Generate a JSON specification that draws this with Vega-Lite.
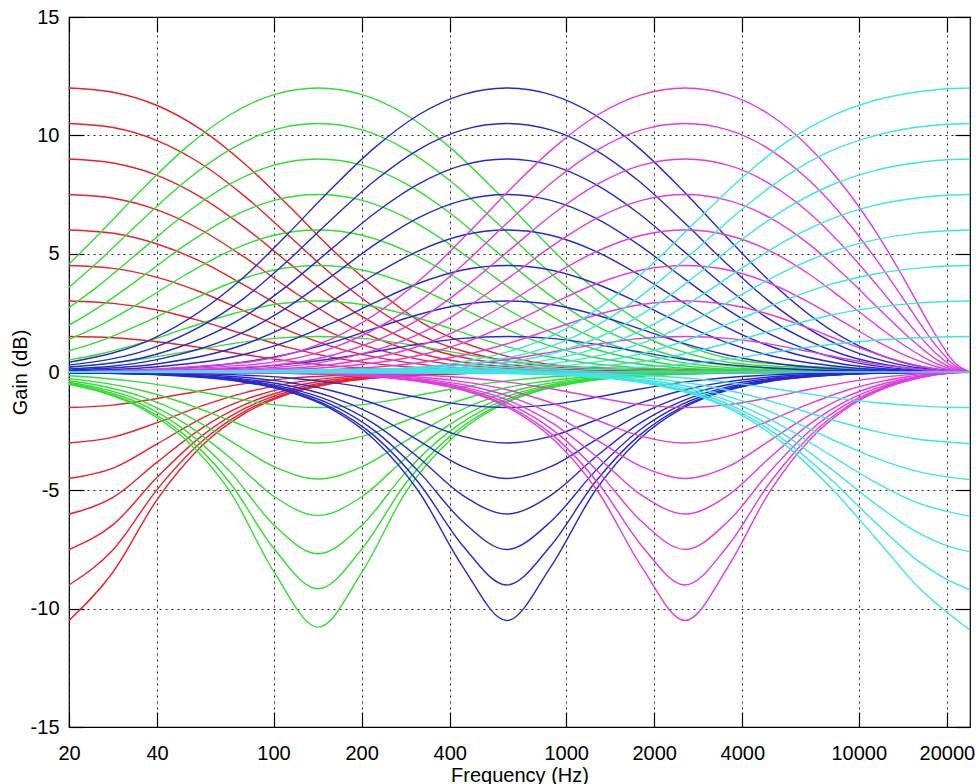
{
"$schema":"https://vega.github.io/schema/vega-lite/v6.json",
"width":901,"height":710,
"autosize":{"type":"none"},
"padding":{"left":69,"top":17,"right":8,"bottom":57},
"background":"white",
"config":{"view":{"stroke":"#000","strokeWidth":1.2},"font":"Liberation Sans",
"axis":{"labelFont":"Liberation Sans","titleFont":"Liberation Sans","labelFontSize":20,"titleFontSize":20,"titleFontWeight":"normal","labelColor":"#000","titleColor":"#000","domain":false,"tickColor":"#000","tickWidth":1.2,"gridColor":"#000","gridDash":[2,4],"gridWidth":1,"gridOpacity":0.85}},
"layer":[
{
"encoding":{
"x":{"field":"f","type":"quantitative","scale":{"type":"log","domain":[20,24000],"nice":false},
"axis":{"orient":"bottom","values":[20,40,100,200,400,1000,2000,4000,10000,20000],"labelExpr":"'' + datum.value","labelFlush":false,"labelOverlap":false,"labelAngle":0,"tickSize":-15,"labelPadding":31,"grid":true,"title":"Frequency (Hz)","titlePadding":2}},
"y":{"field":"y","type":"quantitative","scale":{"domain":[-15,15],"nice":false,"zero":false},
"axis":{"orient":"left","values":[-15,-10,-5,0,5,10,15],"labelExpr":"datum.value < 0 ? '-' + abs(datum.value) : '' + datum.value","labelFlush":false,"labelOverlap":false,"tickSize":-15,"labelPadding":25,"grid":true,"title":"Gain (dB)","titlePadding":0}},
"detail":{"field":"g","type":"nominal"}
},
"layer":[
{"data":{"values":[
{"g":12,"f":20,"y":12},{"g":12,"f":28.3,"y":11.82},{"g":12,"f":40,"y":11.26},{"g":12,"f":56.6,"y":10.24},{"g":12,"f":80,"y":8.78},{"g":12,"f":113.1,"y":7},{"g":12,"f":160,"y":5.13},{"g":12,"f":320,"y":2.1},{"g":12,"f":640,"y":0.64},{"g":12,"f":1280,"y":0.17},{"g":12,"f":24000,"y":0},
{"g":10.5,"f":20,"y":10.5},{"g":10.5,"f":28.3,"y":10.33},{"g":10.5,"f":40,"y":9.78},{"g":10.5,"f":56.6,"y":8.8},{"g":10.5,"f":80,"y":7.41},{"g":10.5,"f":113.1,"y":5.75},{"g":10.5,"f":160,"y":4.07},{"g":10.5,"f":320,"y":1.55},{"g":10.5,"f":640,"y":0.45},{"g":10.5,"f":1280,"y":0.12},{"g":10.5,"f":24000,"y":0},
{"g":9,"f":20,"y":9},{"g":9,"f":28.3,"y":8.83},{"g":9,"f":40,"y":8.31},{"g":9,"f":56.6,"y":7.38},{"g":9,"f":80,"y":6.09},{"g":9,"f":113.1,"y":4.59},{"g":9,"f":160,"y":3.13},{"g":9,"f":320,"y":1.11},{"g":9,"f":640,"y":0.31},{"g":9,"f":1280,"y":0.08},{"g":9,"f":24000,"y":0},
{"g":7.5,"f":20,"y":7.5},{"g":7.5,"f":28.3,"y":7.34},{"g":7.5,"f":40,"y":6.85},{"g":7.5,"f":56.6,"y":6},{"g":7.5,"f":80,"y":4.83},{"g":7.5,"f":113.1,"y":3.52},{"g":7.5,"f":160,"y":2.31},{"g":7.5,"f":320,"y":0.77},{"g":7.5,"f":640,"y":0.21},{"g":7.5,"f":1280,"y":0.05},{"g":7.5,"f":24000,"y":0},
{"g":6,"f":20,"y":6},{"g":6,"f":28.3,"y":5.86},{"g":6,"f":40,"y":5.41},{"g":6,"f":56.6,"y":4.66},{"g":6,"f":80,"y":3.65},{"g":6,"f":113.1,"y":2.57},{"g":6,"f":160,"y":1.62},{"g":6,"f":320,"y":0.51},{"g":6,"f":640,"y":0.14},{"g":6,"f":1280,"y":0.04},{"g":6,"f":24000,"y":0},
{"g":4.5,"f":20,"y":4.5},{"g":4.5,"f":28.3,"y":4.38},{"g":4.5,"f":40,"y":4},{"g":4.5,"f":56.6,"y":3.37},{"g":4.5,"f":80,"y":2.56},{"g":4.5,"f":113.1,"y":1.74},{"g":4.5,"f":160,"y":1.06},{"g":4.5,"f":320,"y":0.32},{"g":4.5,"f":640,"y":0.08},{"g":4.5,"f":1280,"y":0.02},{"g":4.5,"f":24000,"y":0},
{"g":3,"f":20,"y":3},{"g":3,"f":28.3,"y":2.9},{"g":3,"f":40,"y":2.62},{"g":3,"f":56.6,"y":2.15},{"g":3,"f":80,"y":1.58},{"g":3,"f":113.1,"y":1.03},{"g":3,"f":160,"y":0.61},{"g":3,"f":320,"y":0.18},{"g":3,"f":640,"y":0.05},{"g":3,"f":1280,"y":0.01},{"g":3,"f":24000,"y":0},
{"g":1.5,"f":20,"y":1.5},{"g":1.5,"f":28.3,"y":1.45},{"g":1.5,"f":40,"y":1.28},{"g":1.5,"f":56.6,"y":1.03},{"g":1.5,"f":80,"y":0.73},{"g":1.5,"f":113.1,"y":0.46},{"g":1.5,"f":160,"y":0.26},{"g":1.5,"f":320,"y":0.07},{"g":1.5,"f":640,"y":0.02},{"g":1.5,"f":24000,"y":0},
{"g":0,"f":20,"y":0},{"g":0,"f":24000,"y":0},
{"g":-1.5,"f":20,"y":-1.5},{"g":-1.5,"f":28.3,"y":-1.4},{"g":-1.5,"f":40,"y":-1.12},{"g":-1.5,"f":56.6,"y":-0.79},{"g":-1.5,"f":80,"y":-0.49},{"g":-1.5,"f":113.1,"y":-0.27},{"g":-1.5,"f":160,"y":-0.15},{"g":-1.5,"f":320,"y":-0.04},{"g":-1.5,"f":640,"y":-0.01},{"g":-1.5,"f":24000,"y":0},
{"g":-3,"f":20,"y":-3},{"g":-3,"f":28.3,"y":-2.75},{"g":-3,"f":40,"y":-2.14},{"g":-3,"f":56.6,"y":-1.44},{"g":-3,"f":80,"y":-0.87},{"g":-3,"f":113.1,"y":-0.48},{"g":-3,"f":160,"y":-0.25},{"g":-3,"f":320,"y":-0.07},{"g":-3,"f":640,"y":-0.02},{"g":-3,"f":24000,"y":0},
{"g":-4.5,"f":20,"y":-4.5},{"g":-4.5,"f":28.3,"y":-4.06},{"g":-4.5,"f":40,"y":-3.04},{"g":-4.5,"f":56.6,"y":-1.97},{"g":-4.5,"f":80,"y":-1.16},{"g":-4.5,"f":113.1,"y":-0.63},{"g":-4.5,"f":160,"y":-0.33},{"g":-4.5,"f":320,"y":-0.09},{"g":-4.5,"f":640,"y":-0.02},{"g":-4.5,"f":1280,"y":-0.01},{"g":-4.5,"f":24000,"y":0},
{"g":-6,"f":20,"y":-6},{"g":-6,"f":28.3,"y":-5.3},{"g":-6,"f":40,"y":-3.81},{"g":-6,"f":56.6,"y":-2.39},{"g":-6,"f":80,"y":-1.37},{"g":-6,"f":113.1,"y":-0.74},{"g":-6,"f":160,"y":-0.39},{"g":-6,"f":320,"y":-0.1},{"g":-6,"f":640,"y":-0.03},{"g":-6,"f":1280,"y":-0.01},{"g":-6,"f":24000,"y":0},
{"g":-7.5,"f":20,"y":-7.5},{"g":-7.5,"f":28.3,"y":-6.45},{"g":-7.5,"f":40,"y":-4.45},{"g":-7.5,"f":56.6,"y":-2.72},{"g":-7.5,"f":80,"y":-1.53},{"g":-7.5,"f":113.1,"y":-0.82},{"g":-7.5,"f":160,"y":-0.43},{"g":-7.5,"f":320,"y":-0.11},{"g":-7.5,"f":640,"y":-0.03},{"g":-7.5,"f":1280,"y":-0.01},{"g":-7.5,"f":24000,"y":0},
{"g":-9,"f":20,"y":-9},{"g":-9,"f":28.3,"y":-7.51},{"g":-9,"f":40,"y":-4.97},{"g":-9,"f":56.6,"y":-2.96},{"g":-9,"f":80,"y":-1.65},{"g":-9,"f":113.1,"y":-0.88},{"g":-9,"f":160,"y":-0.46},{"g":-9,"f":320,"y":-0.12},{"g":-9,"f":640,"y":-0.03},{"g":-9,"f":1280,"y":-0.01},{"g":-9,"f":24000,"y":0},
{"g":-10.5,"f":20,"y":-10.5},{"g":-10.5,"f":28.3,"y":-8.45},{"g":-10.5,"f":40,"y":-5.39},{"g":-10.5,"f":56.6,"y":-3.15},{"g":-10.5,"f":80,"y":-1.74},{"g":-10.5,"f":113.1,"y":-0.92},{"g":-10.5,"f":160,"y":-0.48},{"g":-10.5,"f":320,"y":-0.12},{"g":-10.5,"f":640,"y":-0.03},{"g":-10.5,"f":1280,"y":-0.01},{"g":-10.5,"f":24000,"y":0}
]},"mark":{"type":"line","color":"#e8212b","strokeWidth":1.4,"interpolate":"monotone","clip":true}},
{"data":{"values":[
{"g":12,"f":20,"y":4.56},{"g":12,"f":25.1,"y":5.78},{"g":12,"f":35.5,"y":7.71},{"g":12,"f":50.2,"y":9.48},{"g":12,"f":71,"y":10.87},{"g":12,"f":100.4,"y":11.72},{"g":12,"f":142,"y":12},{"g":12,"f":200.8,"y":11.72},{"g":12,"f":284,"y":10.87},{"g":12,"f":401.6,"y":9.48},{"g":12,"f":567.8,"y":7.71},{"g":12,"f":802.6,"y":5.78},{"g":12,"f":1134,"y":3.96},{"g":12,"f":2255,"y":1.44},{"g":12,"f":4417,"y":0.41},{"g":12,"f":24000,"y":0},
{"g":10.5,"f":20,"y":3.58},{"g":10.5,"f":25.1,"y":4.65},{"g":10.5,"f":35.5,"y":6.41},{"g":10.5,"f":50.2,"y":8.08},{"g":10.5,"f":71,"y":9.4},{"g":10.5,"f":100.4,"y":10.23},{"g":10.5,"f":142,"y":10.5},{"g":10.5,"f":200.8,"y":10.23},{"g":10.5,"f":284,"y":9.4},{"g":10.5,"f":401.6,"y":8.08},{"g":10.5,"f":567.8,"y":6.41},{"g":10.5,"f":802.6,"y":4.65},{"g":10.5,"f":1134,"y":3.07},{"g":10.5,"f":2255,"y":1.04},{"g":10.5,"f":4417,"y":0.29},{"g":10.5,"f":24000,"y":0},
{"g":9,"f":20,"y":2.72},{"g":9,"f":25.1,"y":3.62},{"g":9,"f":35.5,"y":5.17},{"g":9,"f":50.2,"y":6.71},{"g":9,"f":71,"y":7.95},{"g":9,"f":100.4,"y":8.74},{"g":9,"f":142,"y":9},{"g":9,"f":200.8,"y":8.74},{"g":9,"f":284,"y":7.95},{"g":9,"f":401.6,"y":6.71},{"g":9,"f":567.8,"y":5.17},{"g":9,"f":802.6,"y":3.62},{"g":9,"f":1134,"y":2.3},{"g":9,"f":2255,"y":0.73},{"g":9,"f":4417,"y":0.2},{"g":9,"f":24000,"y":0},
{"g":7.5,"f":20,"y":1.98},{"g":7.5,"f":25.1,"y":2.71},{"g":7.5,"f":35.5,"y":4.02},{"g":7.5,"f":50.2,"y":5.38},{"g":7.5,"f":71,"y":6.52},{"g":7.5,"f":100.4,"y":7.25},{"g":7.5,"f":142,"y":7.5},{"g":7.5,"f":200.8,"y":7.25},{"g":7.5,"f":284,"y":6.52},{"g":7.5,"f":401.6,"y":5.38},{"g":7.5,"f":567.8,"y":4.02},{"g":7.5,"f":802.6,"y":2.71},{"g":7.5,"f":1134,"y":1.66},{"g":7.5,"f":2255,"y":0.5},{"g":7.5,"f":4417,"y":0.13},{"g":7.5,"f":24000,"y":0},
{"g":6,"f":20,"y":1.38},{"g":6,"f":25.1,"y":1.93},{"g":6,"f":35.5,"y":2.97},{"g":6,"f":50.2,"y":4.12},{"g":6,"f":71,"y":5.12},{"g":6,"f":100.4,"y":5.78},{"g":6,"f":142,"y":6},{"g":6,"f":200.8,"y":5.78},{"g":6,"f":284,"y":5.12},{"g":6,"f":401.6,"y":4.12},{"g":6,"f":567.8,"y":2.97},{"g":6,"f":802.6,"y":1.93},{"g":6,"f":1134,"y":1.14},{"g":6,"f":2255,"y":0.33},{"g":6,"f":4417,"y":0.09},{"g":6,"f":24000,"y":0},
{"g":4.5,"f":20,"y":0.89},{"g":4.5,"f":25.1,"y":1.27},{"g":4.5,"f":35.5,"y":2.04},{"g":4.5,"f":50.2,"y":2.93},{"g":4.5,"f":71,"y":3.75},{"g":4.5,"f":100.4,"y":4.31},{"g":4.5,"f":142,"y":4.5},{"g":4.5,"f":200.8,"y":4.31},{"g":4.5,"f":284,"y":3.75},{"g":4.5,"f":401.6,"y":2.93},{"g":4.5,"f":567.8,"y":2.04},{"g":4.5,"f":802.6,"y":1.27},{"g":4.5,"f":1134,"y":0.73},{"g":4.5,"f":2255,"y":0.21},{"g":4.5,"f":4417,"y":0.05},{"g":4.5,"f":24000,"y":0},
{"g":3,"f":20,"y":0.51},{"g":3,"f":25.1,"y":0.74},{"g":3,"f":35.5,"y":1.23},{"g":3,"f":50.2,"y":1.84},{"g":3,"f":71,"y":2.43},{"g":3,"f":100.4,"y":2.85},{"g":3,"f":142,"y":3},{"g":3,"f":200.8,"y":2.85},{"g":3,"f":284,"y":2.43},{"g":3,"f":401.6,"y":1.84},{"g":3,"f":567.8,"y":1.23},{"g":3,"f":802.6,"y":0.74},{"g":3,"f":1134,"y":0.41},{"g":3,"f":2255,"y":0.11},{"g":3,"f":4417,"y":0.03},{"g":3,"f":24000,"y":0},
{"g":1.5,"f":20,"y":0.22},{"g":1.5,"f":25.1,"y":0.32},{"g":1.5,"f":35.5,"y":0.55},{"g":1.5,"f":50.2,"y":0.86},{"g":1.5,"f":71,"y":1.18},{"g":1.5,"f":100.4,"y":1.42},{"g":1.5,"f":142,"y":1.5},{"g":1.5,"f":200.8,"y":1.42},{"g":1.5,"f":284,"y":1.18},{"g":1.5,"f":401.6,"y":0.86},{"g":1.5,"f":567.8,"y":0.55},{"g":1.5,"f":802.6,"y":0.32},{"g":1.5,"f":1134,"y":0.18},{"g":1.5,"f":2255,"y":0.05},{"g":1.5,"f":4417,"y":0.01},{"g":1.5,"f":24000,"y":0},
{"g":0,"f":20,"y":0},{"g":0,"f":24000,"y":0},
{"g":-1.5,"f":20,"y":-0.16},{"g":-1.5,"f":25.1,"y":-0.24},{"g":-1.5,"f":35.5,"y":-0.44},{"g":-1.5,"f":50.2,"y":-0.73},{"g":-1.5,"f":71,"y":-1.08},{"g":-1.5,"f":100.4,"y":-1.38},{"g":-1.5,"f":142,"y":-1.5},{"g":-1.5,"f":200.8,"y":-1.38},{"g":-1.5,"f":284,"y":-1.08},{"g":-1.5,"f":401.6,"y":-0.73},{"g":-1.5,"f":567.8,"y":-0.44},{"g":-1.5,"f":802.6,"y":-0.24},{"g":-1.5,"f":1134,"y":-0.13},{"g":-1.5,"f":2255,"y":-0.03},{"g":-1.5,"f":4417,"y":-0.01},{"g":-1.5,"f":24000,"y":0},
{"g":-3,"f":20,"y":-0.28},{"g":-3,"f":25.1,"y":-0.43},{"g":-3,"f":35.5,"y":-0.78},{"g":-3,"f":50.2,"y":-1.34},{"g":-3,"f":71,"y":-2.05},{"g":-3,"f":100.4,"y":-2.72},{"g":-3,"f":142,"y":-3},{"g":-3,"f":200.8,"y":-2.72},{"g":-3,"f":284,"y":-2.05},{"g":-3,"f":401.6,"y":-1.34},{"g":-3,"f":567.8,"y":-0.78},{"g":-3,"f":802.6,"y":-0.43},{"g":-3,"f":1134,"y":-0.22},{"g":-3,"f":2255,"y":-0.06},{"g":-3,"f":4417,"y":-0.01},{"g":-3,"f":24000,"y":0},
{"g":-4.5,"f":20,"y":-0.37},{"g":-4.5,"f":25.1,"y":-0.56},{"g":-4.5,"f":35.5,"y":-1.04},{"g":-4.5,"f":50.2,"y":-1.82},{"g":-4.5,"f":71,"y":-2.9},{"g":-4.5,"f":100.4,"y":-4},{"g":-4.5,"f":142,"y":-4.52},{"g":-4.5,"f":200.8,"y":-4},{"g":-4.5,"f":284,"y":-2.9},{"g":-4.5,"f":401.6,"y":-1.82},{"g":-4.5,"f":567.8,"y":-1.04},{"g":-4.5,"f":802.6,"y":-0.56},{"g":-4.5,"f":1134,"y":-0.29},{"g":-4.5,"f":2255,"y":-0.08},{"g":-4.5,"f":4417,"y":-0.02},{"g":-4.5,"f":24000,"y":0},
{"g":-6,"f":20,"y":-0.43},{"g":-6,"f":25.1,"y":-0.66},{"g":-6,"f":35.5,"y":-1.23},{"g":-6,"f":50.2,"y":-2.2},{"g":-6,"f":71,"y":-3.62},{"g":-6,"f":100.4,"y":-5.26},{"g":-6,"f":142,"y":-6.06},{"g":-6,"f":200.8,"y":-5.26},{"g":-6,"f":284,"y":-3.62},{"g":-6,"f":401.6,"y":-2.2},{"g":-6,"f":567.8,"y":-1.23},{"g":-6,"f":802.6,"y":-0.66},{"g":-6,"f":1134,"y":-0.34},{"g":-6,"f":2255,"y":-0.09},{"g":-6,"f":4417,"y":-0.02},{"g":-6,"f":24000,"y":0},
{"g":-7.5,"f":20,"y":-0.47},{"g":-7.5,"f":25.1,"y":-0.73},{"g":-7.5,"f":35.5,"y":-1.37},{"g":-7.5,"f":50.2,"y":-2.49},{"g":-7.5,"f":71,"y":-4.21},{"g":-7.5,"f":100.4,"y":-6.47},{"g":-7.5,"f":142,"y":-7.68},{"g":-7.5,"f":200.8,"y":-6.47},{"g":-7.5,"f":284,"y":-4.21},{"g":-7.5,"f":401.6,"y":-2.49},{"g":-7.5,"f":567.8,"y":-1.37},{"g":-7.5,"f":802.6,"y":-0.73},{"g":-7.5,"f":1134,"y":-0.37},{"g":-7.5,"f":2255,"y":-0.1},{"g":-7.5,"f":4417,"y":-0.02},{"g":-7.5,"f":24000,"y":0},
{"g":-9,"f":20,"y":-0.5},{"g":-9,"f":25.1,"y":-0.78},{"g":-9,"f":35.5,"y":-1.48},{"g":-9,"f":50.2,"y":-2.71},{"g":-9,"f":71,"y":-4.68},{"g":-9,"f":100.4,"y":-7.47},{"g":-9,"f":142,"y":-9.16},{"g":-9,"f":200.8,"y":-7.47},{"g":-9,"f":284,"y":-4.68},{"g":-9,"f":401.6,"y":-2.71},{"g":-9,"f":567.8,"y":-1.48},{"g":-9,"f":802.6,"y":-0.78},{"g":-9,"f":1134,"y":-0.4},{"g":-9,"f":2255,"y":-0.1},{"g":-9,"f":4417,"y":-0.03},{"g":-9,"f":24000,"y":0},
{"g":-10.5,"f":20,"y":-0.53},{"g":-10.5,"f":25.1,"y":-0.81},{"g":-10.5,"f":35.5,"y":-1.55},{"g":-10.5,"f":50.2,"y":-2.87},{"g":-10.5,"f":71,"y":-5.05},{"g":-10.5,"f":100.4,"y":-8.45},{"g":-10.5,"f":142,"y":-10.78},{"g":-10.5,"f":200.8,"y":-8.45},{"g":-10.5,"f":284,"y":-5.05},{"g":-10.5,"f":401.6,"y":-2.87},{"g":-10.5,"f":567.8,"y":-1.55},{"g":-10.5,"f":802.6,"y":-0.81},{"g":-10.5,"f":1134,"y":-0.42},{"g":-10.5,"f":2255,"y":-0.11},{"g":-10.5,"f":4417,"y":-0.03},{"g":-10.5,"f":24000,"y":0}
]},"mark":{"type":"line","color":"#33dd33","strokeWidth":1.4,"interpolate":"monotone","clip":true}},
{"data":{"values":[
{"g":12,"f":20,"y":0.41},{"g":12,"f":39.2,"y":1.44},{"g":12,"f":78.4,"y":3.96},{"g":12,"f":110.8,"y":5.78},{"g":12,"f":156.8,"y":7.71},{"g":12,"f":221.7,"y":9.48},{"g":12,"f":313.5,"y":10.87},{"g":12,"f":443.4,"y":11.72},{"g":12,"f":627,"y":12},{"g":12,"f":886.2,"y":11.72},{"g":12,"f":1252,"y":10.87},{"g":12,"f":1767,"y":9.48},{"g":12,"f":2487,"y":7.71},{"g":12,"f":3487,"y":5.78},{"g":12,"f":4849,"y":3.96},{"g":12,"f":8881,"y":1.44},{"g":12,"f":14060,"y":0.41},{"g":12,"f":24000,"y":0},
{"g":10.5,"f":20,"y":0.29},{"g":10.5,"f":39.2,"y":1.04},{"g":10.5,"f":78.4,"y":3.07},{"g":10.5,"f":110.8,"y":4.65},{"g":10.5,"f":156.8,"y":6.41},{"g":10.5,"f":221.7,"y":8.08},{"g":10.5,"f":313.5,"y":9.4},{"g":10.5,"f":443.4,"y":10.23},{"g":10.5,"f":627,"y":10.5},{"g":10.5,"f":886.2,"y":10.23},{"g":10.5,"f":1252,"y":9.4},{"g":10.5,"f":1767,"y":8.08},{"g":10.5,"f":2487,"y":6.41},{"g":10.5,"f":3487,"y":4.65},{"g":10.5,"f":4849,"y":3.07},{"g":10.5,"f":8881,"y":1.04},{"g":10.5,"f":14060,"y":0.29},{"g":10.5,"f":24000,"y":0},
{"g":9,"f":20,"y":0.2},{"g":9,"f":39.2,"y":0.73},{"g":9,"f":78.4,"y":2.3},{"g":9,"f":110.8,"y":3.62},{"g":9,"f":156.8,"y":5.17},{"g":9,"f":221.7,"y":6.71},{"g":9,"f":313.5,"y":7.95},{"g":9,"f":443.4,"y":8.74},{"g":9,"f":627,"y":9},{"g":9,"f":886.2,"y":8.74},{"g":9,"f":1252,"y":7.95},{"g":9,"f":1767,"y":6.71},{"g":9,"f":2487,"y":5.17},{"g":9,"f":3487,"y":3.62},{"g":9,"f":4849,"y":2.3},{"g":9,"f":8881,"y":0.73},{"g":9,"f":14060,"y":0.2},{"g":9,"f":24000,"y":0},
{"g":7.5,"f":20,"y":0.13},{"g":7.5,"f":39.2,"y":0.5},{"g":7.5,"f":78.4,"y":1.66},{"g":7.5,"f":110.8,"y":2.71},{"g":7.5,"f":156.8,"y":4.02},{"g":7.5,"f":221.7,"y":5.38},{"g":7.5,"f":313.5,"y":6.52},{"g":7.5,"f":443.4,"y":7.25},{"g":7.5,"f":627,"y":7.5},{"g":7.5,"f":886.2,"y":7.25},{"g":7.5,"f":1252,"y":6.52},{"g":7.5,"f":1767,"y":5.38},{"g":7.5,"f":2487,"y":4.02},{"g":7.5,"f":3487,"y":2.71},{"g":7.5,"f":4849,"y":1.66},{"g":7.5,"f":8881,"y":0.5},{"g":7.5,"f":14060,"y":0.13},{"g":7.5,"f":24000,"y":0},
{"g":6,"f":20,"y":0.09},{"g":6,"f":39.2,"y":0.33},{"g":6,"f":78.4,"y":1.14},{"g":6,"f":110.8,"y":1.93},{"g":6,"f":156.8,"y":2.97},{"g":6,"f":221.7,"y":4.12},{"g":6,"f":313.5,"y":5.12},{"g":6,"f":443.4,"y":5.78},{"g":6,"f":627,"y":6},{"g":6,"f":886.2,"y":5.78},{"g":6,"f":1252,"y":5.12},{"g":6,"f":1767,"y":4.12},{"g":6,"f":2487,"y":2.97},{"g":6,"f":3487,"y":1.93},{"g":6,"f":4849,"y":1.14},{"g":6,"f":8881,"y":0.33},{"g":6,"f":14060,"y":0.09},{"g":6,"f":24000,"y":0},
{"g":4.5,"f":20,"y":0.05},{"g":4.5,"f":39.2,"y":0.21},{"g":4.5,"f":78.4,"y":0.73},{"g":4.5,"f":110.8,"y":1.27},{"g":4.5,"f":156.8,"y":2.04},{"g":4.5,"f":221.7,"y":2.93},{"g":4.5,"f":313.5,"y":3.75},{"g":4.5,"f":443.4,"y":4.31},{"g":4.5,"f":627,"y":4.5},{"g":4.5,"f":886.2,"y":4.31},{"g":4.5,"f":1252,"y":3.75},{"g":4.5,"f":1767,"y":2.93},{"g":4.5,"f":2487,"y":2.04},{"g":4.5,"f":3487,"y":1.27},{"g":4.5,"f":4849,"y":0.73},{"g":4.5,"f":8881,"y":0.21},{"g":4.5,"f":14060,"y":0.05},{"g":4.5,"f":24000,"y":0},
{"g":3,"f":20,"y":0.03},{"g":3,"f":39.2,"y":0.11},{"g":3,"f":78.4,"y":0.41},{"g":3,"f":110.8,"y":0.74},{"g":3,"f":156.8,"y":1.23},{"g":3,"f":221.7,"y":1.84},{"g":3,"f":313.5,"y":2.43},{"g":3,"f":443.4,"y":2.85},{"g":3,"f":627,"y":3},{"g":3,"f":886.2,"y":2.85},{"g":3,"f":1252,"y":2.43},{"g":3,"f":1767,"y":1.84},{"g":3,"f":2487,"y":1.23},{"g":3,"f":3487,"y":0.74},{"g":3,"f":4849,"y":0.41},{"g":3,"f":8881,"y":0.11},{"g":3,"f":14060,"y":0.03},{"g":3,"f":24000,"y":0},
{"g":1.5,"f":20,"y":0.01},{"g":1.5,"f":39.2,"y":0.05},{"g":1.5,"f":78.4,"y":0.18},{"g":1.5,"f":110.8,"y":0.32},{"g":1.5,"f":156.8,"y":0.55},{"g":1.5,"f":221.7,"y":0.86},{"g":1.5,"f":313.5,"y":1.18},{"g":1.5,"f":443.4,"y":1.42},{"g":1.5,"f":627,"y":1.5},{"g":1.5,"f":886.2,"y":1.42},{"g":1.5,"f":1252,"y":1.18},{"g":1.5,"f":1767,"y":0.86},{"g":1.5,"f":2487,"y":0.55},{"g":1.5,"f":3487,"y":0.32},{"g":1.5,"f":4849,"y":0.18},{"g":1.5,"f":8881,"y":0.05},{"g":1.5,"f":14060,"y":0.01},{"g":1.5,"f":24000,"y":0},
{"g":0,"f":20,"y":0},{"g":0,"f":24000,"y":0},
{"g":-1.5,"f":20,"y":-0.01},{"g":-1.5,"f":39.2,"y":-0.03},{"g":-1.5,"f":78.4,"y":-0.13},{"g":-1.5,"f":110.8,"y":-0.24},{"g":-1.5,"f":156.8,"y":-0.44},{"g":-1.5,"f":221.7,"y":-0.73},{"g":-1.5,"f":313.5,"y":-1.08},{"g":-1.5,"f":443.4,"y":-1.38},{"g":-1.5,"f":627,"y":-1.5},{"g":-1.5,"f":886.2,"y":-1.38},{"g":-1.5,"f":1252,"y":-1.08},{"g":-1.5,"f":1767,"y":-0.73},{"g":-1.5,"f":2487,"y":-0.44},{"g":-1.5,"f":3487,"y":-0.24},{"g":-1.5,"f":4849,"y":-0.13},{"g":-1.5,"f":8881,"y":-0.03},{"g":-1.5,"f":14060,"y":-0.01},{"g":-1.5,"f":24000,"y":0},
{"g":-3,"f":20,"y":-0.01},{"g":-3,"f":39.2,"y":-0.06},{"g":-3,"f":78.4,"y":-0.22},{"g":-3,"f":110.8,"y":-0.43},{"g":-3,"f":156.8,"y":-0.78},{"g":-3,"f":221.7,"y":-1.34},{"g":-3,"f":313.5,"y":-2.05},{"g":-3,"f":443.4,"y":-2.72},{"g":-3,"f":627,"y":-3},{"g":-3,"f":886.2,"y":-2.72},{"g":-3,"f":1252,"y":-2.05},{"g":-3,"f":1767,"y":-1.34},{"g":-3,"f":2487,"y":-0.78},{"g":-3,"f":3487,"y":-0.43},{"g":-3,"f":4849,"y":-0.22},{"g":-3,"f":8881,"y":-0.06},{"g":-3,"f":14060,"y":-0.01},{"g":-3,"f":24000,"y":0},
{"g":-4.5,"f":20,"y":-0.02},{"g":-4.5,"f":39.2,"y":-0.08},{"g":-4.5,"f":78.4,"y":-0.29},{"g":-4.5,"f":110.8,"y":-0.56},{"g":-4.5,"f":156.8,"y":-1.04},{"g":-4.5,"f":221.7,"y":-1.82},{"g":-4.5,"f":313.5,"y":-2.9},{"g":-4.5,"f":443.4,"y":-4},{"g":-4.5,"f":627,"y":-4.5},{"g":-4.5,"f":886.2,"y":-4},{"g":-4.5,"f":1252,"y":-2.9},{"g":-4.5,"f":1767,"y":-1.82},{"g":-4.5,"f":2487,"y":-1.04},{"g":-4.5,"f":3487,"y":-0.56},{"g":-4.5,"f":4849,"y":-0.29},{"g":-4.5,"f":8881,"y":-0.08},{"g":-4.5,"f":14060,"y":-0.02},{"g":-4.5,"f":24000,"y":0},
{"g":-6,"f":20,"y":-0.02},{"g":-6,"f":39.2,"y":-0.09},{"g":-6,"f":78.4,"y":-0.34},{"g":-6,"f":110.8,"y":-0.66},{"g":-6,"f":156.8,"y":-1.23},{"g":-6,"f":221.7,"y":-2.2},{"g":-6,"f":313.5,"y":-3.62},{"g":-6,"f":443.4,"y":-5.21},{"g":-6,"f":627,"y":-6},{"g":-6,"f":886.2,"y":-5.21},{"g":-6,"f":1252,"y":-3.62},{"g":-6,"f":1767,"y":-2.2},{"g":-6,"f":2487,"y":-1.23},{"g":-6,"f":3487,"y":-0.66},{"g":-6,"f":4849,"y":-0.34},{"g":-6,"f":8881,"y":-0.09},{"g":-6,"f":14060,"y":-0.02},{"g":-6,"f":24000,"y":0},
{"g":-7.5,"f":20,"y":-0.02},{"g":-7.5,"f":39.2,"y":-0.1},{"g":-7.5,"f":78.4,"y":-0.37},{"g":-7.5,"f":110.8,"y":-0.73},{"g":-7.5,"f":156.8,"y":-1.37},{"g":-7.5,"f":221.7,"y":-2.49},{"g":-7.5,"f":313.5,"y":-4.21},{"g":-7.5,"f":443.4,"y":-6.32},{"g":-7.5,"f":627,"y":-7.5},{"g":-7.5,"f":886.2,"y":-6.32},{"g":-7.5,"f":1252,"y":-4.21},{"g":-7.5,"f":1767,"y":-2.49},{"g":-7.5,"f":2487,"y":-1.37},{"g":-7.5,"f":3487,"y":-0.73},{"g":-7.5,"f":4849,"y":-0.37},{"g":-7.5,"f":8881,"y":-0.1},{"g":-7.5,"f":14060,"y":-0.02},{"g":-7.5,"f":24000,"y":0},
{"g":-9,"f":20,"y":-0.03},{"g":-9,"f":39.2,"y":-0.1},{"g":-9,"f":78.4,"y":-0.4},{"g":-9,"f":110.8,"y":-0.78},{"g":-9,"f":156.8,"y":-1.48},{"g":-9,"f":221.7,"y":-2.71},{"g":-9,"f":313.5,"y":-4.68},{"g":-9,"f":443.4,"y":-7.34},{"g":-9,"f":627,"y":-9},{"g":-9,"f":886.2,"y":-7.34},{"g":-9,"f":1252,"y":-4.68},{"g":-9,"f":1767,"y":-2.71},{"g":-9,"f":2487,"y":-1.48},{"g":-9,"f":3487,"y":-0.78},{"g":-9,"f":4849,"y":-0.4},{"g":-9,"f":8881,"y":-0.1},{"g":-9,"f":14060,"y":-0.03},{"g":-9,"f":24000,"y":0},
{"g":-10.5,"f":20,"y":-0.03},{"g":-10.5,"f":39.2,"y":-0.11},{"g":-10.5,"f":78.4,"y":-0.42},{"g":-10.5,"f":110.8,"y":-0.81},{"g":-10.5,"f":156.8,"y":-1.55},{"g":-10.5,"f":221.7,"y":-2.87},{"g":-10.5,"f":313.5,"y":-5.05},{"g":-10.5,"f":443.4,"y":-8.23},{"g":-10.5,"f":627,"y":-10.5},{"g":-10.5,"f":886.2,"y":-8.23},{"g":-10.5,"f":1252,"y":-5.05},{"g":-10.5,"f":1767,"y":-2.87},{"g":-10.5,"f":2487,"y":-1.55},{"g":-10.5,"f":3487,"y":-0.81},{"g":-10.5,"f":4849,"y":-0.42},{"g":-10.5,"f":8881,"y":-0.11},{"g":-10.5,"f":14060,"y":-0.03},{"g":-10.5,"f":24000,"y":0}
]},"mark":{"type":"line","color":"#2828d0","strokeWidth":1.4,"interpolate":"monotone","clip":true}},
{"data":{"values":[
{"g":12,"f":20,"y":0},{"g":12,"f":80.4,"y":0.41},{"g":12,"f":160.9,"y":1.44},{"g":12,"f":321.7,"y":3.96},{"g":12,"f":454.9,"y":5.78},{"g":12,"f":643.1,"y":7.71},{"g":12,"f":909,"y":9.48},{"g":12,"f":1284,"y":10.87},{"g":12,"f":1812,"y":11.72},{"g":12,"f":2550,"y":12},{"g":12,"f":3574,"y":11.72},{"g":12,"f":4966,"y":10.87},{"g":12,"f":6794,"y":9.48},{"g":12,"f":9060,"y":7.71},{"g":12,"f":11633,"y":5.78},{"g":12,"f":14247,"y":3.96},{"g":12,"f":18573,"y":1.44},{"g":12,"f":21198,"y":0.41},{"g":12,"f":24000,"y":0},
{"g":10.5,"f":20,"y":0},{"g":10.5,"f":80.4,"y":0.29},{"g":10.5,"f":160.9,"y":1.04},{"g":10.5,"f":321.7,"y":3.07},{"g":10.5,"f":454.9,"y":4.65},{"g":10.5,"f":643.1,"y":6.41},{"g":10.5,"f":909,"y":8.08},{"g":10.5,"f":1284,"y":9.4},{"g":10.5,"f":1812,"y":10.23},{"g":10.5,"f":2550,"y":10.5},{"g":10.5,"f":3574,"y":10.23},{"g":10.5,"f":4966,"y":9.4},{"g":10.5,"f":6794,"y":8.08},{"g":10.5,"f":9060,"y":6.41},{"g":10.5,"f":11633,"y":4.65},{"g":10.5,"f":14247,"y":3.07},{"g":10.5,"f":18573,"y":1.04},{"g":10.5,"f":21198,"y":0.29},{"g":10.5,"f":24000,"y":0},
{"g":9,"f":20,"y":0},{"g":9,"f":80.4,"y":0.2},{"g":9,"f":160.9,"y":0.73},{"g":9,"f":321.7,"y":2.3},{"g":9,"f":454.9,"y":3.62},{"g":9,"f":643.1,"y":5.17},{"g":9,"f":909,"y":6.71},{"g":9,"f":1284,"y":7.95},{"g":9,"f":1812,"y":8.74},{"g":9,"f":2550,"y":9},{"g":9,"f":3574,"y":8.74},{"g":9,"f":4966,"y":7.95},{"g":9,"f":6794,"y":6.71},{"g":9,"f":9060,"y":5.17},{"g":9,"f":11633,"y":3.62},{"g":9,"f":14247,"y":2.3},{"g":9,"f":18573,"y":0.73},{"g":9,"f":21198,"y":0.2},{"g":9,"f":24000,"y":0},
{"g":7.5,"f":20,"y":0},{"g":7.5,"f":80.4,"y":0.13},{"g":7.5,"f":160.9,"y":0.5},{"g":7.5,"f":321.7,"y":1.66},{"g":7.5,"f":454.9,"y":2.71},{"g":7.5,"f":643.1,"y":4.02},{"g":7.5,"f":909,"y":5.38},{"g":7.5,"f":1284,"y":6.52},{"g":7.5,"f":1812,"y":7.25},{"g":7.5,"f":2550,"y":7.5},{"g":7.5,"f":3574,"y":7.25},{"g":7.5,"f":4966,"y":6.52},{"g":7.5,"f":6794,"y":5.38},{"g":7.5,"f":9060,"y":4.02},{"g":7.5,"f":11633,"y":2.71},{"g":7.5,"f":14247,"y":1.66},{"g":7.5,"f":18573,"y":0.5},{"g":7.5,"f":21198,"y":0.13},{"g":7.5,"f":24000,"y":0},
{"g":6,"f":20,"y":0},{"g":6,"f":80.4,"y":0.09},{"g":6,"f":160.9,"y":0.33},{"g":6,"f":321.7,"y":1.14},{"g":6,"f":454.9,"y":1.93},{"g":6,"f":643.1,"y":2.97},{"g":6,"f":909,"y":4.12},{"g":6,"f":1284,"y":5.12},{"g":6,"f":1812,"y":5.78},{"g":6,"f":2550,"y":6},{"g":6,"f":3574,"y":5.78},{"g":6,"f":4966,"y":5.12},{"g":6,"f":6794,"y":4.12},{"g":6,"f":9060,"y":2.97},{"g":6,"f":11633,"y":1.93},{"g":6,"f":14247,"y":1.14},{"g":6,"f":18573,"y":0.33},{"g":6,"f":21198,"y":0.09},{"g":6,"f":24000,"y":0},
{"g":4.5,"f":20,"y":0},{"g":4.5,"f":80.4,"y":0.05},{"g":4.5,"f":160.9,"y":0.21},{"g":4.5,"f":321.7,"y":0.73},{"g":4.5,"f":454.9,"y":1.27},{"g":4.5,"f":643.1,"y":2.04},{"g":4.5,"f":909,"y":2.93},{"g":4.5,"f":1284,"y":3.75},{"g":4.5,"f":1812,"y":4.31},{"g":4.5,"f":2550,"y":4.5},{"g":4.5,"f":3574,"y":4.31},{"g":4.5,"f":4966,"y":3.75},{"g":4.5,"f":6794,"y":2.93},{"g":4.5,"f":9060,"y":2.04},{"g":4.5,"f":11633,"y":1.27},{"g":4.5,"f":14247,"y":0.73},{"g":4.5,"f":18573,"y":0.21},{"g":4.5,"f":21198,"y":0.05},{"g":4.5,"f":24000,"y":0},
{"g":3,"f":20,"y":0},{"g":3,"f":80.4,"y":0.03},{"g":3,"f":160.9,"y":0.11},{"g":3,"f":321.7,"y":0.41},{"g":3,"f":454.9,"y":0.74},{"g":3,"f":643.1,"y":1.23},{"g":3,"f":909,"y":1.84},{"g":3,"f":1284,"y":2.43},{"g":3,"f":1812,"y":2.85},{"g":3,"f":2550,"y":3},{"g":3,"f":3574,"y":2.85},{"g":3,"f":4966,"y":2.43},{"g":3,"f":6794,"y":1.84},{"g":3,"f":9060,"y":1.23},{"g":3,"f":11633,"y":0.74},{"g":3,"f":14247,"y":0.41},{"g":3,"f":18573,"y":0.11},{"g":3,"f":21198,"y":0.03},{"g":3,"f":24000,"y":0},
{"g":1.5,"f":20,"y":0},{"g":1.5,"f":80.4,"y":0.01},{"g":1.5,"f":160.9,"y":0.05},{"g":1.5,"f":321.7,"y":0.18},{"g":1.5,"f":454.9,"y":0.32},{"g":1.5,"f":643.1,"y":0.55},{"g":1.5,"f":909,"y":0.86},{"g":1.5,"f":1284,"y":1.18},{"g":1.5,"f":1812,"y":1.42},{"g":1.5,"f":2550,"y":1.5},{"g":1.5,"f":3574,"y":1.42},{"g":1.5,"f":4966,"y":1.18},{"g":1.5,"f":6794,"y":0.86},{"g":1.5,"f":9060,"y":0.55},{"g":1.5,"f":11633,"y":0.32},{"g":1.5,"f":14247,"y":0.18},{"g":1.5,"f":18573,"y":0.05},{"g":1.5,"f":21198,"y":0.01},{"g":1.5,"f":24000,"y":0},
{"g":0,"f":20,"y":0},{"g":0,"f":24000,"y":0},
{"g":-1.5,"f":20,"y":0},{"g":-1.5,"f":80.4,"y":-0.01},{"g":-1.5,"f":160.9,"y":-0.03},{"g":-1.5,"f":321.7,"y":-0.13},{"g":-1.5,"f":454.9,"y":-0.24},{"g":-1.5,"f":643.1,"y":-0.44},{"g":-1.5,"f":909,"y":-0.73},{"g":-1.5,"f":1284,"y":-1.08},{"g":-1.5,"f":1812,"y":-1.38},{"g":-1.5,"f":2550,"y":-1.5},{"g":-1.5,"f":3574,"y":-1.38},{"g":-1.5,"f":4966,"y":-1.08},{"g":-1.5,"f":6794,"y":-0.73},{"g":-1.5,"f":9060,"y":-0.44},{"g":-1.5,"f":11633,"y":-0.24},{"g":-1.5,"f":14247,"y":-0.13},{"g":-1.5,"f":18573,"y":-0.03},{"g":-1.5,"f":21198,"y":-0.01},{"g":-1.5,"f":24000,"y":0},
{"g":-3,"f":20,"y":0},{"g":-3,"f":80.4,"y":-0.01},{"g":-3,"f":160.9,"y":-0.06},{"g":-3,"f":321.7,"y":-0.22},{"g":-3,"f":454.9,"y":-0.43},{"g":-3,"f":643.1,"y":-0.78},{"g":-3,"f":909,"y":-1.34},{"g":-3,"f":1284,"y":-2.05},{"g":-3,"f":1812,"y":-2.72},{"g":-3,"f":2550,"y":-3},{"g":-3,"f":3574,"y":-2.72},{"g":-3,"f":4966,"y":-2.05},{"g":-3,"f":6794,"y":-1.34},{"g":-3,"f":9060,"y":-0.78},{"g":-3,"f":11633,"y":-0.43},{"g":-3,"f":14247,"y":-0.22},{"g":-3,"f":18573,"y":-0.06},{"g":-3,"f":21198,"y":-0.01},{"g":-3,"f":24000,"y":0},
{"g":-4.5,"f":20,"y":0},{"g":-4.5,"f":80.4,"y":-0.02},{"g":-4.5,"f":160.9,"y":-0.08},{"g":-4.5,"f":321.7,"y":-0.29},{"g":-4.5,"f":454.9,"y":-0.56},{"g":-4.5,"f":643.1,"y":-1.04},{"g":-4.5,"f":909,"y":-1.82},{"g":-4.5,"f":1284,"y":-2.9},{"g":-4.5,"f":1812,"y":-4},{"g":-4.5,"f":2550,"y":-4.5},{"g":-4.5,"f":3574,"y":-4},{"g":-4.5,"f":4966,"y":-2.9},{"g":-4.5,"f":6794,"y":-1.82},{"g":-4.5,"f":9060,"y":-1.04},{"g":-4.5,"f":11633,"y":-0.56},{"g":-4.5,"f":14247,"y":-0.29},{"g":-4.5,"f":18573,"y":-0.08},{"g":-4.5,"f":21198,"y":-0.02},{"g":-4.5,"f":24000,"y":0},
{"g":-6,"f":20,"y":0},{"g":-6,"f":80.4,"y":-0.02},{"g":-6,"f":160.9,"y":-0.09},{"g":-6,"f":321.7,"y":-0.34},{"g":-6,"f":454.9,"y":-0.66},{"g":-6,"f":643.1,"y":-1.23},{"g":-6,"f":909,"y":-2.2},{"g":-6,"f":1284,"y":-3.62},{"g":-6,"f":1812,"y":-5.21},{"g":-6,"f":2550,"y":-6},{"g":-6,"f":3574,"y":-5.21},{"g":-6,"f":4966,"y":-3.62},{"g":-6,"f":6794,"y":-2.2},{"g":-6,"f":9060,"y":-1.23},{"g":-6,"f":11633,"y":-0.66},{"g":-6,"f":14247,"y":-0.34},{"g":-6,"f":18573,"y":-0.09},{"g":-6,"f":21198,"y":-0.02},{"g":-6,"f":24000,"y":0},
{"g":-7.5,"f":20,"y":0},{"g":-7.5,"f":80.4,"y":-0.02},{"g":-7.5,"f":160.9,"y":-0.1},{"g":-7.5,"f":321.7,"y":-0.37},{"g":-7.5,"f":454.9,"y":-0.73},{"g":-7.5,"f":643.1,"y":-1.37},{"g":-7.5,"f":909,"y":-2.49},{"g":-7.5,"f":1284,"y":-4.21},{"g":-7.5,"f":1812,"y":-6.32},{"g":-7.5,"f":2550,"y":-7.5},{"g":-7.5,"f":3574,"y":-6.32},{"g":-7.5,"f":4966,"y":-4.21},{"g":-7.5,"f":6794,"y":-2.49},{"g":-7.5,"f":9060,"y":-1.37},{"g":-7.5,"f":11633,"y":-0.73},{"g":-7.5,"f":14247,"y":-0.37},{"g":-7.5,"f":18573,"y":-0.1},{"g":-7.5,"f":21198,"y":-0.02},{"g":-7.5,"f":24000,"y":0},
{"g":-9,"f":20,"y":0},{"g":-9,"f":80.4,"y":-0.03},{"g":-9,"f":160.9,"y":-0.1},{"g":-9,"f":321.7,"y":-0.4},{"g":-9,"f":454.9,"y":-0.78},{"g":-9,"f":643.1,"y":-1.48},{"g":-9,"f":909,"y":-2.71},{"g":-9,"f":1284,"y":-4.68},{"g":-9,"f":1812,"y":-7.34},{"g":-9,"f":2550,"y":-9},{"g":-9,"f":3574,"y":-7.34},{"g":-9,"f":4966,"y":-4.68},{"g":-9,"f":6794,"y":-2.71},{"g":-9,"f":9060,"y":-1.48},{"g":-9,"f":11633,"y":-0.78},{"g":-9,"f":14247,"y":-0.4},{"g":-9,"f":18573,"y":-0.1},{"g":-9,"f":21198,"y":-0.03},{"g":-9,"f":24000,"y":0},
{"g":-10.5,"f":20,"y":0},{"g":-10.5,"f":80.4,"y":-0.03},{"g":-10.5,"f":160.9,"y":-0.11},{"g":-10.5,"f":321.7,"y":-0.42},{"g":-10.5,"f":454.9,"y":-0.81},{"g":-10.5,"f":643.1,"y":-1.55},{"g":-10.5,"f":909,"y":-2.87},{"g":-10.5,"f":1284,"y":-5.05},{"g":-10.5,"f":1812,"y":-8.23},{"g":-10.5,"f":2550,"y":-10.5},{"g":-10.5,"f":3574,"y":-8.23},{"g":-10.5,"f":4966,"y":-5.05},{"g":-10.5,"f":6794,"y":-2.87},{"g":-10.5,"f":9060,"y":-1.55},{"g":-10.5,"f":11633,"y":-0.81},{"g":-10.5,"f":14247,"y":-0.42},{"g":-10.5,"f":18573,"y":-0.11},{"g":-10.5,"f":21198,"y":-0.03},{"g":-10.5,"f":24000,"y":0}
]},"mark":{"type":"line","color":"#e03ce0","strokeWidth":1.4,"interpolate":"monotone","clip":true}}
]
},
{
"data":{"values":[
{"g":12,"f":20,"y":0},{"g":12,"f":250,"y":0.14},{"g":12,"f":500,"y":0.55},{"g":12,"f":1000,"y":1.83},{"g":12,"f":1414,"y":3.05},{"g":12,"f":2000,"y":4.64},{"g":12,"f":2828,"y":6.45},{"g":12,"f":4000,"y":8.22},{"g":12,"f":5657,"y":9.71},{"g":12,"f":8000,"y":10.79},{"g":12,"f":11314,"y":11.47},{"g":12,"f":16000,"y":11.84},{"g":12,"f":20000,"y":11.97},{"g":12,"f":24000,"y":12},
{"g":10.5,"f":20,"y":0},{"g":10.5,"f":250,"y":0.1},{"g":10.5,"f":500,"y":0.38},{"g":10.5,"f":1000,"y":1.34},{"g":10.5,"f":1414,"y":2.3},{"g":10.5,"f":2000,"y":3.65},{"g":10.5,"f":2828,"y":5.25},{"g":10.5,"f":4000,"y":6.89},{"g":10.5,"f":5657,"y":8.29},{"g":10.5,"f":8000,"y":9.33},{"g":10.5,"f":11314,"y":9.98},{"g":10.5,"f":16000,"y":10.35},{"g":10.5,"f":20000,"y":10.47},{"g":10.5,"f":24000,"y":10.5},
{"g":9,"f":20,"y":0},{"g":9,"f":250,"y":0.07},{"g":9,"f":500,"y":0.27},{"g":9,"f":1000,"y":0.95},{"g":9,"f":1414,"y":1.69},{"g":9,"f":2000,"y":2.77},{"g":9,"f":2828,"y":4.15},{"g":9,"f":4000,"y":5.61},{"g":9,"f":5657,"y":6.91},{"g":9,"f":8000,"y":7.88},{"g":9,"f":11314,"y":8.51},{"g":9,"f":16000,"y":8.85},{"g":9,"f":20000,"y":8.97},{"g":9,"f":24000,"y":9},
{"g":7.5,"f":20,"y":0},{"g":7.5,"f":250,"y":0.05},{"g":7.5,"f":500,"y":0.18},{"g":7.5,"f":1000,"y":0.66},{"g":7.5,"f":1414,"y":1.19},{"g":7.5,"f":2000,"y":2.03},{"g":7.5,"f":2828,"y":3.15},{"g":7.5,"f":4000,"y":4.4},{"g":7.5,"f":5657,"y":5.56},{"g":7.5,"f":8000,"y":6.45},{"g":7.5,"f":11314,"y":7.04},{"g":7.5,"f":16000,"y":7.36},{"g":7.5,"f":20000,"y":7.47},{"g":7.5,"f":24000,"y":7.5},
{"g":6,"f":20,"y":0},{"g":6,"f":250,"y":0.03},{"g":6,"f":500,"y":0.12},{"g":6,"f":1000,"y":0.44},{"g":6,"f":1414,"y":0.81},{"g":6,"f":2000,"y":1.41},{"g":6,"f":2828,"y":2.27},{"g":6,"f":4000,"y":3.29},{"g":6,"f":5657,"y":4.28},{"g":6,"f":8000,"y":5.06},{"g":6,"f":11314,"y":5.58},{"g":6,"f":16000,"y":5.88},{"g":6,"f":20000,"y":5.97},{"g":6,"f":24000,"y":6},
{"g":4.5,"f":20,"y":0},{"g":4.5,"f":250,"y":0.02},{"g":4.5,"f":500,"y":0.07},{"g":4.5,"f":1000,"y":0.27},{"g":4.5,"f":1414,"y":0.51},{"g":4.5,"f":2000,"y":0.91},{"g":4.5,"f":2828,"y":1.52},{"g":4.5,"f":4000,"y":2.28},{"g":4.5,"f":5657,"y":3.06},{"g":4.5,"f":8000,"y":3.7},{"g":4.5,"f":11314,"y":4.14},{"g":4.5,"f":16000,"y":4.39},{"g":4.5,"f":20000,"y":4.48},{"g":4.5,"f":24000,"y":4.5},
{"g":3,"f":20,"y":0},{"g":3,"f":250,"y":0.01},{"g":3,"f":500,"y":0.04},{"g":3,"f":1000,"y":0.15},{"g":3,"f":1414,"y":0.29},{"g":3,"f":2000,"y":0.52},{"g":3,"f":2828,"y":0.9},{"g":3,"f":4000,"y":1.39},{"g":3,"f":5657,"y":1.93},{"g":3,"f":8000,"y":2.4},{"g":3,"f":11314,"y":2.72},{"g":3,"f":16000,"y":2.92},{"g":3,"f":20000,"y":2.98},{"g":3,"f":24000,"y":3},
{"g":1.5,"f":20,"y":0},{"g":1.5,"f":500,"y":0.02},{"g":1.5,"f":1000,"y":0.06},{"g":1.5,"f":1414,"y":0.12},{"g":1.5,"f":2000,"y":0.23},{"g":1.5,"f":2828,"y":0.39},{"g":1.5,"f":4000,"y":0.63},{"g":1.5,"f":5657,"y":0.91},{"g":1.5,"f":8000,"y":1.16},{"g":1.5,"f":11314,"y":1.34},{"g":1.5,"f":16000,"y":1.45},{"g":1.5,"f":20000,"y":1.49},{"g":1.5,"f":24000,"y":1.5},
{"g":0,"f":20,"y":0},{"g":0,"f":24000,"y":0},
{"g":-1.5,"f":20,"y":0},{"g":-1.5,"f":500,"y":-0.01},{"g":-1.5,"f":1000,"y":-0.05},{"g":-1.5,"f":1414,"y":-0.09},{"g":-1.5,"f":2000,"y":-0.17},{"g":-1.5,"f":2828,"y":-0.3},{"g":-1.5,"f":4000,"y":-0.51},{"g":-1.5,"f":5657,"y":-0.78},{"g":-1.5,"f":8000,"y":-1.06},{"g":-1.5,"f":11314,"y":-1.29},{"g":-1.5,"f":16000,"y":-1.43},{"g":-1.5,"f":20000,"y":-1.49},{"g":-1.5,"f":24000,"y":-1.5},
{"g":-3,"f":20,"y":0},{"g":-3,"f":500,"y":-0.02},{"g":-3,"f":1000,"y":-0.08},{"g":-3,"f":1414,"y":-0.15},{"g":-3,"f":2000,"y":-0.29},{"g":-3,"f":2828,"y":-0.53},{"g":-3,"f":4000,"y":-0.91},{"g":-3,"f":5657,"y":-1.43},{"g":-3,"f":8000,"y":-2},{"g":-3,"f":11314,"y":-2.5},{"g":-3,"f":16000,"y":-2.84},{"g":-3,"f":20000,"y":-2.96},{"g":-3,"f":24000,"y":-3.03},
{"g":-4.5,"f":20,"y":0},{"g":-4.5,"f":500,"y":-0.03},{"g":-4.5,"f":1000,"y":-0.1},{"g":-4.5,"f":1414,"y":-0.2},{"g":-4.5,"f":2000,"y":-0.38},{"g":-4.5,"f":2828,"y":-0.7},{"g":-4.5,"f":4000,"y":-1.22},{"g":-4.5,"f":5657,"y":-1.96},{"g":-4.5,"f":8000,"y":-2.82},{"g":-4.5,"f":11314,"y":-3.62},{"g":-4.5,"f":16000,"y":-4.21},{"g":-4.5,"f":20000,"y":-4.43},{"g":-4.5,"f":24000,"y":-4.54},
{"g":-6,"f":20,"y":0},{"g":-6,"f":500,"y":-0.03},{"g":-6,"f":1000,"y":-0.12},{"g":-6,"f":1414,"y":-0.23},{"g":-6,"f":2000,"y":-0.44},{"g":-6,"f":2828,"y":-0.82},{"g":-6,"f":4000,"y":-1.45},{"g":-6,"f":5657,"y":-2.37},{"g":-6,"f":8000,"y":-3.51},{"g":-6,"f":11314,"y":-4.64},{"g":-6,"f":16000,"y":-5.54},{"g":-6,"f":20000,"y":-5.89},{"g":-6,"f":24000,"y":-6.1},
{"g":-7.5,"f":20,"y":0},{"g":-7.5,"f":500,"y":-0.03},{"g":-7.5,"f":1000,"y":-0.13},{"g":-7.5,"f":1414,"y":-0.25},{"g":-7.5,"f":2000,"y":-0.49},{"g":-7.5,"f":2828,"y":-0.91},{"g":-7.5,"f":4000,"y":-1.63},{"g":-7.5,"f":5657,"y":-2.7},{"g":-7.5,"f":8000,"y":-4.07},{"g":-7.5,"f":11314,"y":-5.54},{"g":-7.5,"f":16000,"y":-6.8},{"g":-7.5,"f":20000,"y":-7.34},{"g":-7.5,"f":24000,"y":-7.6},
{"g":-9,"f":20,"y":0},{"g":-9,"f":500,"y":-0.03},{"g":-9,"f":1000,"y":-0.14},{"g":-9,"f":1414,"y":-0.27},{"g":-9,"f":2000,"y":-0.52},{"g":-9,"f":2828,"y":-0.98},{"g":-9,"f":4000,"y":-1.75},{"g":-9,"f":5657,"y":-2.94},{"g":-9,"f":8000,"y":-4.52},{"g":-9,"f":11314,"y":-6.32},{"g":-9,"f":16000,"y":-7.99},{"g":-9,"f":20000,"y":-8.76},{"g":-9,"f":24000,"y":-9.2},
{"g":-10.5,"f":20,"y":0},{"g":-10.5,"f":250,"y":-0.01},{"g":-10.5,"f":500,"y":-0.04},{"g":-10.5,"f":1000,"y":-0.14},{"g":-10.5,"f":1414,"y":-0.28},{"g":-10.5,"f":2000,"y":-0.54},{"g":-10.5,"f":2828,"y":-1.02},{"g":-10.5,"f":4000,"y":-1.84},{"g":-10.5,"f":5657,"y":-3.12},{"g":-10.5,"f":8000,"y":-4.87},{"g":-10.5,"f":11314,"y":-6.96},{"g":-10.5,"f":16000,"y":-9.09},{"g":-10.5,"f":20000,"y":-10.15},{"g":-10.5,"f":24000,"y":-10.9}
]},
"mark":{"type":"line","color":"#3ce6e6","strokeWidth":1.4,"interpolate":"monotone","clip":true},
"encoding":{
"x":{"field":"f","type":"quantitative","scale":{"type":"log","domain":[20,24000],"nice":false},
"axis":{"orient":"top","values":[20,40,100,200,400,1000,2000,4000,10000,20000],"labels":false,"grid":false,"tickSize":-15,"title":null}},
"y":{"field":"y","type":"quantitative","scale":{"domain":[-15,15],"nice":false,"zero":false},
"axis":{"orient":"right","values":[-15,-10,-5,0,5,10,15],"labels":false,"grid":false,"tickSize":-15,"title":null}},
"detail":{"field":"g","type":"nominal"}
}
}
],
"resolve":{"axis":{"x":"independent","y":"independent"}}
}
